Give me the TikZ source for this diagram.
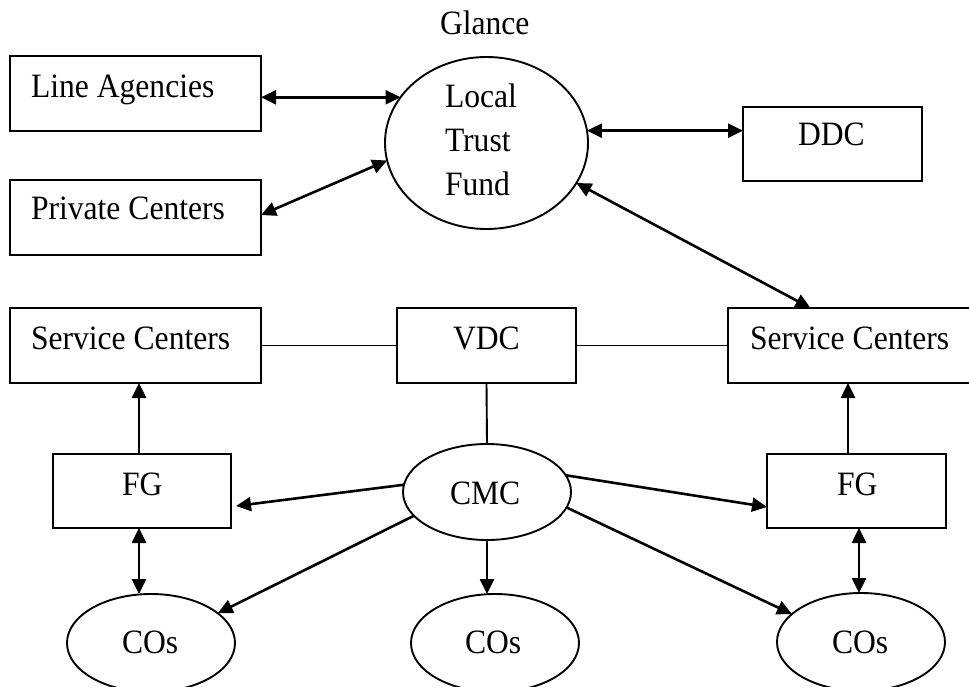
\documentclass[tikz,border=0pt]{standalone}
\usepackage{fontspec}
\usepackage{graphicx}
\setmainfont{Liberation Serif}
\usetikzlibrary{arrows.meta,shapes.geometric,calc}
\newcommand\vtxt[1]{\scalebox{1}[1.08]{#1}}
\begin{document}
\begin{tikzpicture}[x=1pt,y=-1pt,
  every node/.style={outer sep=0pt, inner sep=0pt},
  boxnode/.style={draw, line width=1.9pt, rectangle},
  ovalnode/.style={draw, line width=1.9pt, ellipse},
  lbl/.style={anchor=base west, font=\fontsize{31.6}{38}\selectfont},
  dbl/.style={{Triangle[length=15pt,width=14pt]}-{Triangle[length=15pt,width=14pt]}, line width=2.6pt},
  sgl/.style={-{Triangle[length=15pt,width=14pt]}, line width=2.6pt},
  plain/.style={line width=1.9pt}]
\useasboundingbox (0,0) rectangle (969,687);

% boxes
\node[boxnode, minimum width=251pt, minimum height=75pt] (la) at (135.5,93.5) {};
\node[boxnode, minimum width=251pt, minimum height=75pt] (pc) at (135.5,217.5) {};
\node[boxnode, minimum width=179pt, minimum height=74pt] (ddc) at (832.5,144) {};
\node[boxnode, minimum width=251pt, minimum height=75pt] (scl) at (135.5,345.5) {};
\node[boxnode, minimum width=179pt, minimum height=75pt] (vdc) at (486.5,345.5) {};
\node[boxnode, minimum width=247pt, minimum height=75pt] (scr) at (851.5,345.5) {};
\node[boxnode, minimum width=178pt, minimum height=74pt] (fgl) at (142,491) {};
\node[boxnode, minimum width=179pt, minimum height=74pt] (fgr) at (856.5,491) {};

% ellipses
\node[ovalnode, minimum width=203pt, minimum height=172pt] (ltf) at (486.5,143) {};
\node[ovalnode, minimum width=168pt, minimum height=96pt] (cmc) at (487,492) {};
\node[ovalnode, minimum width=168pt, minimum height=98pt] (col) at (151,643) {};
\node[ovalnode, minimum width=168pt, minimum height=98pt] (com) at (495,643) {};
\node[ovalnode, minimum width=168pt, minimum height=98pt] (cor) at (861,642) {};

% texts
\node[lbl] (tglance) at (440,35) {\vtxt{Glance}};
\node[lbl] (tla) at (31,98) {\vtxt{Line Agencies}};
\node[lbl] (tpc) at (31,220) {\vtxt{Private Centers}};
\node[lbl] (tlocal) at (445,108) {\vtxt{Local}};
\node[lbl] (ttrust) at (445,152) {\vtxt{Trust}};
\node[lbl] (tfund) at (445,196) {\vtxt{Fund}};
\node[lbl] (tddc) at (798,146) {\vtxt{DDC}};
\node[lbl] (tscl) at (31,349) {\vtxt{Service Centers}};
\node[lbl] (tscr) at (750,349) {\vtxt{Service Centers}};
\node[lbl] (tvdc) at (453,349) {\vtxt{VDC}};
\node[lbl] (tfgl) at (122,495) {\vtxt{FG}};
\node[lbl] (tfgr) at (837,495) {\vtxt{FG}};
\node[lbl] (tcmc) at (450,504) {\vtxt{CMC}};
\node[lbl] (tcol) at (122,653) {\vtxt{COs}};
\node[lbl] (tcom) at (465,653) {\vtxt{COs}};
\node[lbl] (tcor) at (832,653) {\vtxt{COs}};

% helper coordinates
\coordinate (fgltop) at ([xshift=-3pt]fgl.north);
\coordinate (fglbot) at ([xshift=-3pt]fgl.south);
\coordinate (fgrtop) at ([xshift=-8.5pt]fgr.north);
\coordinate (fgrbot) at ([xshift=2.5pt]fgr.south);
\coordinate (scrin) at ([xshift=-41pt]scr.north);
\coordinate (pcout) at ([yshift=2.5pt]pc.east);
\coordinate (fglin) at ([xshift=5pt,yshift=-15pt]fgl.east);
\coordinate (fgrin) at ([yshift=-16pt]fgr.west);

% connectors
\draw[dbl] (ltf.152 -| la.east) -- (ltf.152);
\draw[dbl] (pcout) -- (ltf.190);
\draw[dbl] (ltf.7) -- (ltf.7 -| ddc.west);
\draw[dbl] (ltf.-24) -- (scrin);
\draw[plain] (scl.east) -- (vdc.west);
\draw[plain] (vdc.east) -- (scr.west);
\draw[plain] (vdc.south) -- (cmc.north);
\draw[sgl] (fgltop) -- (fgltop |- scl.south);
\draw[sgl] (fgrtop) -- (fgrtop |- scr.south);
\draw[dbl] (fglbot) -- (fglbot |- col.north);
\draw[dbl] (fgrbot) -- (fgrbot |- cor.north);
\draw[sgl] (cmc.175) -- (fglin);
\draw[sgl] (cmc.12) -- (fgrin);
\draw[sgl] (cmc.198) -- (col.24);
\draw[sgl] (cmc.south) -- (cmc.south |- com.north);
\draw[sgl] (cmc.-11) -- (cor.158);
\end{tikzpicture}
\end{document}
